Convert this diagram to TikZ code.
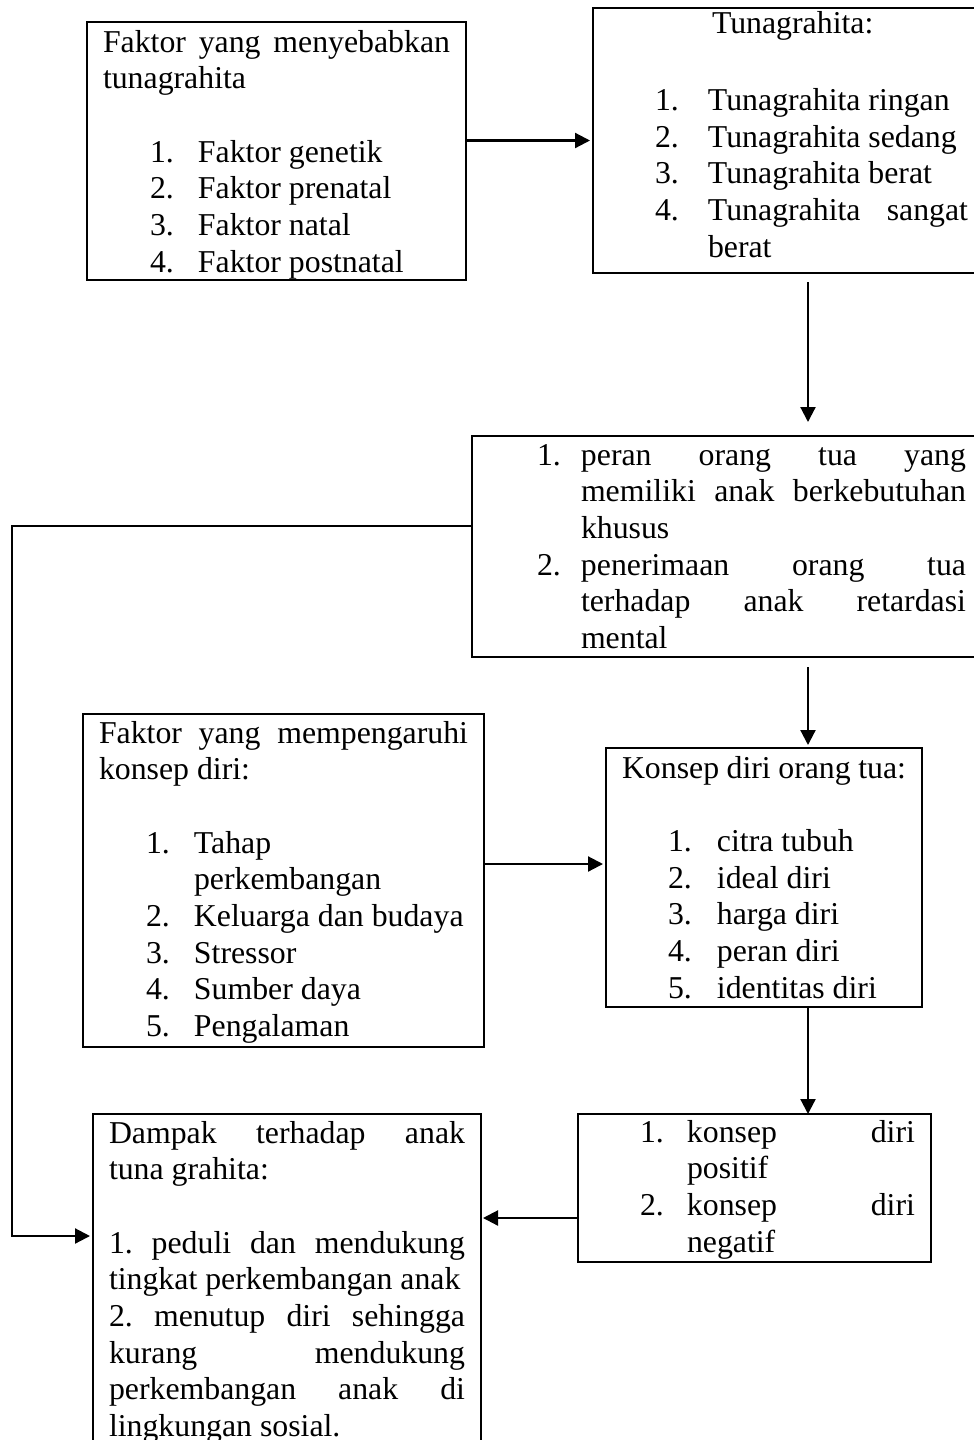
\documentclass[tikz,border=0pt]{standalone}
\usepackage{fontspec}
\setmainfont{Liberation Serif}
\usetikzlibrary{arrows.meta}
\newlength\nomorx
\newlength\isix
\setlength\nomorx{47pt}
\setlength\isix{95pt}
\newcommand\butir[2]{\par\noindent\hangindent=\isix\hangafter=1\hspace*{\nomorx}\makebox[\dimexpr\isix-\nomorx\relax][l]{#1}#2}
\newcommand\kosong{\par\mbox{}\par}
\newcommand\isikotak[4]{\parbox[c][#2pt][t]{#1pt}{\leftskip=16pt\rightskip=16pt\parindent=0pt\frenchspacing
  \tolerance=10000\hbadness=10000\hyphenpenalty=10000\exhyphenpenalty=10000
  \vskip\dimexpr#3pt-\baselineskip\relax\hbox{}#4\par}}
\tikzset{
  kotak/.style={draw, line width=2.4pt, anchor=north west, inner sep=0pt, outer sep=0pt,
    font=\fontsize{31.8}{36.7}\selectfont},
  panah/.style={-{Triangle[length=15pt,width=15pt]}, line width=2.2pt}
}
\begin{document}
\begin{tikzpicture}[x=1pt,y=-1pt]
      \useasboundingbox (0,0) rectangle (974,1440);
      \clip (0,0) rectangle (974,1440);
      \draw
        (87,22) node[kotak] (penyebab){\isikotak{379}{258}{30}{Faktor yang menyebabkan \linebreak tunagrahita\kosong
          \butir{1.}{Faktor genetik}\butir{2.}{Faktor prenatal}\butir{3.}{Faktor natal}\butir{4.}{Faktor postnatal}}}
        (593,8) node[kotak] (jenis){\isikotak{391}{265}{25}{\setlength\nomorx{46pt}\setlength\isix{99pt}%
          \hspace*{103pt}Tunagrahita:\kosong\vspace{4pt}
          \butir{1.}{Tunagrahita ringan}\butir{2.}{Tunagrahita sedang}\butir{3.}{Tunagrahita berat}%
          \butir{4.}{Tunagrahita sangat \linebreak berat}}}
        (472,436) node[kotak] (peran){\isikotak{510}{221}{29}{\setlength\nomorx{49pt}\setlength\isix{93pt}%
          \butir{1.}{peran orang tua yang \linebreak memiliki anak berkebutuhan \linebreak khusus}%
          \butir{2.}{penerimaan orang tua \linebreak terhadap anak retardasi \linebreak mental}}}
        (83,714) node[kotak] (pengaruh){\isikotak{401}{333}{29}{Faktor yang mempengaruhi \linebreak konsep diri:\kosong
          \butir{1.}{Tahap \linebreak perkembangan}\butir{2.}{Keluarga dan budaya}\butir{3.}{Stressor}%
          \butir{4.}{Sumber daya}\butir{5.}{Pengalaman}}}
        (606,748) node[kotak] (konsep){\isikotak{316}{259}{30}{\setlength\nomorx{46pt}%
          Konsep diri orang tua:\kosong
          \butir{1.}{citra tubuh}\butir{2.}{ideal diri}\butir{3.}{harga diri}\butir{4.}{peran diri}%
          \butir{5.}{identitas diri}}}
        (578,1114) node[kotak] (bentuk){\isikotak{353}{148}{28}{\setlength\nomorx{46pt}\setlength\isix{93pt}%
          \butir{1.}{konsep diri \linebreak positif}\butir{2.}{konsep diri \linebreak negatif}}}
        (93,1114) node[kotak] (dampak){\isikotak{388}{350}{29}{Dampak terhadap anak \linebreak tuna grahita:\kosong
          1. peduli dan mendukung \linebreak tingkat perkembangan anak\par
          2. menutup diri sehingga \linebreak kurang mendukung \linebreak perkembangan anak di \linebreak lingkungan sosial.}};
      \coordinate (jalur) at (808,0);
      \coordinate (garisB) at (0,864);
      \coordinate (garisC) at (0,1218);
      \coordinate (kiriA) at (12,526);
      \coordinate (kiriB) at (12,1236);
      \begin{scope}[panah]
        \draw[shorten >=3pt] (penyebab.east |- jenis.west) to (jenis.west);
        \draw[shorten <=9pt, shorten >=14pt] (jenis.south -| jalur) to (peran.north -| jalur);
        \draw[shorten <=10pt, shorten >=3pt] (peran.south -| jalur) to (konsep.north -| jalur);
        \draw[shorten >=3pt] (pengaruh.east |- garisB) to (konsep.west |- garisB);
        \draw (konsep.south -| jalur) to (bentuk.north -| jalur);
        \draw[shorten >=2pt] (bentuk.west |- garisC) to (dampak.east |- garisC);
        \draw[shorten >=3pt] (peran.west |- kiriA) -- (kiriA) -- (kiriB) -- (dampak.west |- kiriB);
      \end{scope}
    \end{tikzpicture}
\end{document}
